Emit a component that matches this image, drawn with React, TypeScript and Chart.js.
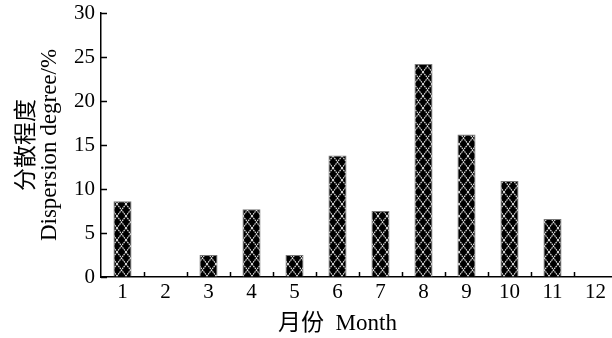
import { useEffect, useRef } from 'react';
import { Chart, registerables } from 'chart.js';

Chart.register(...registerables);

const months = ['1', '2', '3', '4', '5', '6', '7', '8', '9', '10', '11', '12'];
const dispersion = [8.6, 0, 2.5, 7.7, 2.5, 13.8, 7.5, 24.2, 16.2, 10.9, 6.6, 0];
const yTickValues = [0, 5, 10, 15, 20, 25, 30];
const yTitle = ['分散程度', 'Dispersion degree/%'];
const xTitle = '月份  Month';

const FONT = '"Liberation Serif", "Noto Sans CJK SC", serif';

function makePattern(): CanvasPattern | string {
  const c = document.createElement('canvas');
  c.width = 9;
  c.height = 12;
  const g = c.getContext('2d');
  if (!g) return '#000';
  g.fillStyle = '#000';
  g.fillRect(0, 0, 9, 12);
  g.strokeStyle = '#e6e6e6';
  g.lineWidth = 1.1;
  g.setLineDash([1.6, 0.7]);
  g.beginPath();
  g.moveTo(0, 0);
  g.lineTo(9, 12);
  g.moveTo(9, 0);
  g.lineTo(0, 12);
  g.stroke();
  return g.createPattern(c, 'repeat') || '#000';
}

const innerTicks = {
  id: 'innerTicks',
  afterDraw(chart: any) {
    const { ctx, chartArea, scales } = chart;
    const x = scales.x;
    const y = scales.y;
    ctx.save();
    ctx.strokeStyle = '#000';
    ctx.lineWidth = 1.5;
    ctx.beginPath();
    yTickValues.forEach((v) => {
      const py = Math.round(y.getPixelForValue(v)) + 0.5;
      ctx.moveTo(chartArea.left, py);
      ctx.lineTo(chartArea.left + 6, py);
    });
    for (let i = 1; i < months.length; i++) {
      const px = Math.round((x.getPixelForTick(i - 1) + x.getPixelForTick(i)) / 2) + 0.5;
      ctx.moveTo(px, chartArea.bottom);
      ctx.lineTo(px, chartArea.bottom - 5);
    }
    ctx.stroke();
    ctx.fillStyle = '#000';
    ctx.font = '23px ' + FONT;
    ctx.textAlign = 'center';
    ctx.textBaseline = 'middle';
    ctx.fillText(xTitle, x.getPixelForTick(5), chartArea.bottom + 47);
    ctx.restore();
  },
};

export default function App() {
  const ref = useRef<HTMLCanvasElement | null>(null);
  useEffect(() => {
    if (!ref.current) return;
    const pattern = makePattern();
    const chart = new Chart(ref.current, {
      type: 'bar',
      data: {
        labels: months,
        datasets: [
          {
            data: dispersion,
            backgroundColor: pattern as any,
            borderColor: '#777',
            borderWidth: 1,
            barPercentage: 0.42,
            categoryPercentage: 1,
          },
        ],
      },
      options: {
        responsive: false,
        animation: false,
        layout: { padding: { top: 13, right: 0, left: 0, bottom: 0 } },
        plugins: { legend: { display: false }, tooltip: { enabled: false } },
        scales: {
          x: {
            offset: true,
            grid: { display: true, drawOnChartArea: false, drawTicks: false, offset: true },
            border: { display: true, color: '#000', width: 1.5 },
            ticks: { color: '#000', font: { family: FONT, size: 21 }, padding: 3, maxRotation: 0 },
            afterFit: (s: any) => {
              s.height = 61;
              s.paddingLeft = 0;
              s.paddingRight = 0;
            },
          },
          y: {
            min: 0,
            max: 30,
            grid: { display: true, drawOnChartArea: false, drawTicks: false },
            border: { display: true, color: '#000', width: 1.5 },
            ticks: { stepSize: 5, color: '#000', font: { family: FONT, size: 21 }, padding: 6 },
            title: {
              display: true,
              text: yTitle,
              color: '#000',
              font: { family: FONT, size: 23, lineHeight: 1.0 },
              padding: { top: 15, bottom: 0 },
            },
            afterFit: (s: any) => {
              s.width = 101;
              s.paddingTop = 0;
              s.paddingBottom = 0;
            },
          },
        },
      },
      plugins: [innerTicks],
    });
    return () => chart.destroy();
  }, []);
  return (
    <div style={{ position: 'absolute', left: 0, top: 0, width: 612, height: 338, overflow: 'hidden', background: '#fff' }}>
      <canvas ref={ref} width={617} height={338} style={{ width: 617, height: 338, display: 'block' }} />
    </div>
  );
}
